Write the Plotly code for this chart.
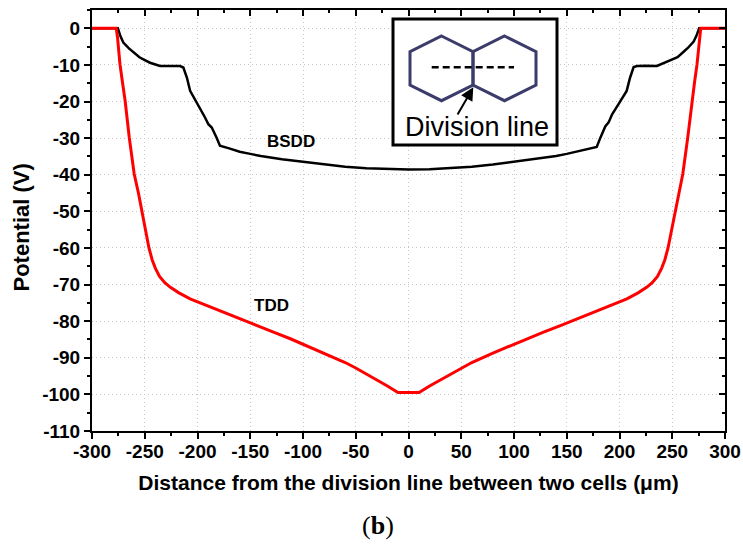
import plotly.graph_objects as go

# ---------------- data ----------------
tdd_x = [-300, -277, -275.8, -273.5, -271, -268.6, -264.7, -260, -256, -252.5, -249, -246, -243,
         -240, -236, -231, -226, -218, -207, -190, -175.5, -160, -144, -128, -112, -100, -80, -60,
         -50, -40, -30, -20, -10, 10, 20, 30, 40, 50, 60, 80, 100, 112, 128, 144, 160, 175.5, 190,
         207, 218, 226, 231, 236, 240, 243, 246, 249, 252.5, 256, 260, 264.7, 268.6, 271, 273.5,
         275.8, 277, 300]
tdd_y = [0, 0, -2.5, -9.8, -15.0, -19.8, -29.8, -39.8, -45, -50.3, -55.5, -60, -63.2,
         -65.5, -67.8, -69.5, -70.7, -72.2, -73.9, -75.9, -77.6, -79.4, -81.2, -83, -84.8, -86.3,
         -88.7, -91.3, -92.8, -94.4, -96.1, -97.7, -99.5, -99.5, -97.7, -96.1, -94.4, -92.8, -91.3,
         -88.7, -86.3, -84.8, -83, -81.2, -79.4, -77.6, -75.9, -73.9, -72.2, -70.7, -69.5, -67.8,
         -65.5, -63.2, -60, -55.5, -50.3, -45, -39.8, -29.8, -19.8, -15.0, -9.8, -2.5, 0, 0]

bsdd_x = [-300, -277, -275.5, -273, -270.3, -265, -260.8, -255, -251.3, -245, -235.5, -225,
          -216.6, -213.4, -210, -207, -202, -197.6, -193, -189.7, -186.5, -182, -178.7, -170,
          -160, -150, -140, -120, -100, -80, -60, -40, -20, 0, 20, 40, 60, 80, 100, 120, 140,
          150, 160, 170, 178.4, 182, 186.5, 189.7, 193, 197.6, 202, 206.8, 210, 213.4, 216.6,
          225, 235.5, 245, 251.3, 255, 260.8, 265, 270.3, 273, 275.5, 277, 300]
bsdd_y = [0, 0, 0, -2.2, -3.9, -5.5, -6.6, -7.9, -8.5, -9.4, -10.3, -10.2,
          -10.3, -10.7, -13.5, -17.1, -19.6, -21.6, -24.3, -26.2, -27.1, -29.8, -32.1, -32.8,
          -33.7, -34.3, -34.9, -35.8, -36.5, -37.2, -37.8, -38.2, -38.5, -38.6, -38.5, -38.2,
          -37.8, -37.2, -36.5, -35.8, -34.9, -34.3, -33.7, -33.0, -32.4, -29.8, -26.8, -25.7,
          -23.5, -21.4, -19.4, -17.1, -13.5, -10.6, -10.3, -10.2, -10.3, -9.2, -8.5, -7.9,
          -6.4, -5.3, -3.6, -2.0, 0, 0, 0]

x_tickvals = [-300, -250, -200, -150, -100, -50, 0, 50, 100, 150, 200, 250, 300]
x_ticktext = ["-300", "-250", "-200", "-150", "-100", "-50", "0", "50", "100", "150", "200", "250", "300"]
y_tickvals = [0, -10, -20, -30, -40, -50, -60, -70, -80, -90, -100, -110]
y_ticktext = ["0", "-10", "-20", "-30", "-40", "-50", "-60", "-70", "-80", "-90", "-100", "-110"]

# ---------------- layout geometry (pixels) ----------------
W, H = 743, 545
L, R, T, B = 92, 725, 10, 431
XR = [-300, 300]
YR = [-110, 5]

def px(p):
    return (p - L) / (R - L)

def py(p):
    return 1 - (p - T) / (B - T)

FONT = "Liberation Sans, Arial, sans-serif"
GRID = dict(showgrid=True, gridcolor="#c4c4c4", gridwidth=1, griddash="1px,3px")

fig = go.Figure()
fig.add_trace(go.Scatter(x=bsdd_x, y=bsdd_y, mode="lines", line=dict(color="black", width=2.5),
                         hoverinfo="skip", showlegend=False))
fig.add_trace(go.Scatter(x=tdd_x, y=tdd_y, mode="lines", line=dict(color="#ff0000", width=3),
                         xaxis="x2", yaxis="y2", hoverinfo="skip", showlegend=False))

axis_common = dict(showline=True, linecolor="black", linewidth=2, zeroline=False, automargin=False)

fig.update_layout(
    width=W, height=H,
    margin=dict(l=L, r=W - R, t=T, b=H - B, autoexpand=False),
    paper_bgcolor="white", plot_bgcolor="white",
    font=dict(family=FONT, color="black"),
    xaxis=dict(range=XR, tickvals=x_tickvals, ticktext=[f"<b>{t}</b>" for t in x_ticktext],
               ticks="outside", ticklen=6, tickwidth=1.5, tickcolor="black",
               tickfont=dict(size=19, family=FONT),
               minor=dict(dtick=25, tick0=0, ticks="outside", ticklen=3, tickwidth=1.5, tickcolor="black", showgrid=False),
               title=dict(text="<b>Distance from the division line between two cells (μm)</b>",
                          font=dict(size=21, family=FONT), standoff=15),
               **GRID, **axis_common),
    yaxis=dict(range=YR, tickvals=y_tickvals, ticktext=[f"<b>{t}</b>" for t in y_ticktext],
               ticks="outside", ticklen=6, tickwidth=1.5, tickcolor="black",
               tickfont=dict(size=19, family=FONT),
               minor=dict(dtick=5, tick0=0, ticks="outside", ticklen=3, tickwidth=1.5, tickcolor="black", showgrid=False),
               **GRID, **axis_common),
    xaxis2=dict(range=XR, overlaying="x", side="top", anchor="y2", tickvals=x_tickvals,
                showticklabels=False, ticks="inside", ticklen=6, tickwidth=1.5, tickcolor="black",
                minor=dict(dtick=25, tick0=0, ticks="inside", ticklen=3, tickwidth=1.5, tickcolor="black"),
                showgrid=False, **axis_common),
    yaxis2=dict(range=YR, overlaying="y", side="right", anchor="x2", tickvals=y_tickvals,
                showticklabels=False, ticks="inside", ticklen=6, tickwidth=1.5, tickcolor="black",
                minor=dict(dtick=5, tick0=0, ticks="inside", ticklen=3, tickwidth=1.5, tickcolor="black"),
                showgrid=False, **axis_common),
)

try:
    fig.layout.xaxis.ticklabelstandoff = -4
except Exception:
    pass

# y axis title (placed as rotated text)
fig.add_annotation(xref="paper", yref="paper", x=px(21), y=py(227.5), xanchor="center", yanchor="middle",
                   text="<b>Potential (V)</b>", textangle=-90, showarrow=False,
                   font=dict(size=22, family=FONT, color="black"))

# curve labels
fig.add_annotation(x=-111.7, y=-30.8, text="<b>BSDD</b>", showarrow=False,
                   font=dict(size=17, family=FONT, color="black"))
fig.add_annotation(x=-129.7, y=-75.7, text="<b>TDD</b>", showarrow=False,
                   font=dict(size=17, family=FONT, color="black"))

# inset box
fig.add_shape(type="rect", xref="paper", yref="paper", x0=px(393), x1=px(557), y0=py(145), y1=py(19),
              line=dict(color="black", width=3), fillcolor="white", layer="above")

for cx in (441.5, 504.5):
    pts = [(cx, 36), (cx + 31.5, 51.7), (cx + 31.5, 85), (cx, 100.7), (cx - 31.5, 85), (cx - 31.5, 51.7)]
    d = "M " + " L ".join(f"{px(a):.5f},{py(b):.5f}" for a, b in pts) + " Z"
    fig.add_shape(type="path", xref="paper", yref="paper", path=d,
                  line=dict(color="#3b3c6a", width=3), layer="above")

fig.add_shape(type="line", xref="paper", yref="paper", x0=px(431.7), x1=px(514), y0=py(67.3), y1=py(67.3),
              line=dict(color="black", width=2.5, dash="7px,4px"), layer="above")

fig.add_annotation(xref="paper", yref="paper", x=px(473.3), y=py(87.3),
                   ax=456.7 - 473.3, ay=116 - 87.3, axref="pixel", ayref="pixel",
                   text="", showarrow=True, arrowhead=2, arrowsize=1.3, arrowwidth=2, arrowcolor="black")

fig.add_annotation(xref="paper", yref="paper", x=px(476.5), y=py(127), xanchor="center", yanchor="middle",
                   text="Division line", showarrow=False, font=dict(size=27, family=FONT, color="black"))

fig.add_annotation(xref="paper", yref="paper", x=px(377.5), y=py(525), xanchor="center", yanchor="middle",
                   text="(<b>b</b>)", showarrow=False,
                   font=dict(size=26, family="Liberation Serif, DejaVu Serif, serif", color="black"))

fig.write_html("out.html")
